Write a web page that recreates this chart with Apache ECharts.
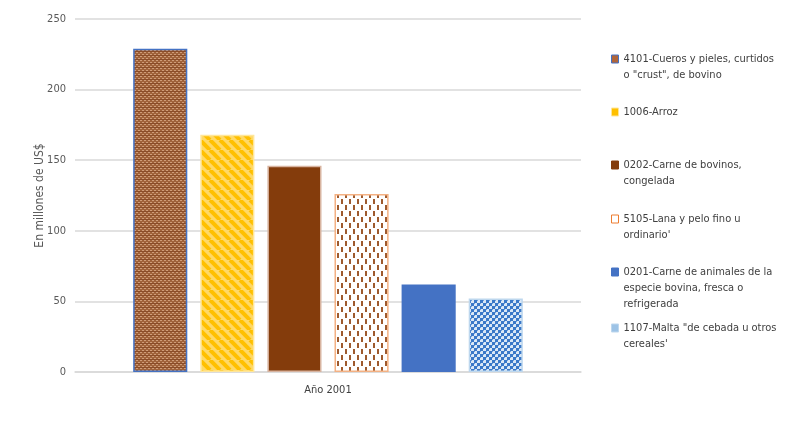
<!DOCTYPE html>
<html>
<head>
<meta charset="utf-8">
<script src="https://cdn.jsdelivr.net/npm/echarts@6/dist/echarts.min.js"></script>
<style>
  html, body { margin: 0; padding: 0; background: #fff; }
  #main { width: 805px; height: 421px; }
</style>
</head>
<body>
<div id="main"></div>
<script>
// data
var categories = ['Año 2001'];
var seriesNames = [
  '4101-Cueros y pieles, curtidos\no "crust", de bovino',
  '1006-Arroz',
  '0202-Carne de bovinos,\ncongelada',
  "5105-Lana y pelo fino u\nordinario'",
  '0201-Carne de animales de la\nespecie bovina, fresca o\nrefrigerada',
  "1107-Malta \"de cebada u otros\ncereales'"
];
var values = [229, 168, 146, 126, 62, 52];
var yTicks = [0, 50, 100, 150, 200, 250];

var FONT = "'Liberation Sans Narrow', 'DejaVu Sans Condensed', sans-serif";

// fill patterns
function tile(w, h, draw) {
  var c = document.createElement('canvas');
  c.width = w; c.height = h;
  draw(c.getContext('2d'), w, h);
  return { image: c, repeat: 'repeat' };
}

var wovenBrown = tile(4, 4, function (g, w, h) {
  g.fillStyle = '#a0623a'; g.fillRect(0, 0, w, h);
  g.fillStyle = '#cf9c78'; g.fillRect(0, 0, 2, 1); g.fillRect(2, 2, 2, 1);
  g.fillStyle = '#8a4c28'; g.fillRect(0, 3, 4, 1);
});
var yellowStripes = tile(10, 10, function (g, w, h) {
  g.fillStyle = '#ffd966'; g.fillRect(0, 0, w, h);
  g.strokeStyle = '#ffc000'; g.lineWidth = 4;
  [-w, 0, w].forEach(function (k) {
    g.beginPath(); g.moveTo(k, 0); g.lineTo(k + w, h); g.stroke();
  });
});
var dashes = tile(8, 12, function (g, w, h) {
  g.fillStyle = '#ffffff'; g.fillRect(0, 0, w, h);
  g.fillStyle = '#9e5a2e';
  g.fillRect(1, 1, 2, 5);
  g.fillRect(5, 7, 2, 5);
});
var blueDots = tile(6, 6, function (g, w, h) {
  g.fillStyle = '#dbe8f6'; g.fillRect(0, 0, w, h);
  g.fillStyle = '#3a78c8';
  g.fillRect(0, 0, 3, 3); g.fillRect(3, 3, 3, 3);
  g.fillStyle = '#6fa0dc';
  g.fillRect(3, 0, 1, 1); g.fillRect(0, 3, 1, 1);
});

var fills = [wovenBrown, yellowStripes, '#843c0c', dashes, '#4472c4', blueDots];
var borders = ['#4472c4', '#ffe699', '#d8b4a0', '#f4b183', '#4472c4', '#bdd7ee'];
var iconColors = ['#b0653a', '#ffc000', '#843c0c', '#ffffff', '#4472c4', '#9dc3e6'];
var iconBorders = ['#4472c4', '#ffe699', '#843c0c', '#ed7d31', '#4472c4', '#bdd7ee'];
var legendTops = [35, 104, 141, 195, 232, 304];

var LH = 16;
var series = seriesNames.map(function (name, i) {
  return {
    name: name,
    type: 'bar',
    barGap: '24%',
    barCategoryGap: '23%',
    data: [values[i]],
    itemStyle: { color: fills[i], borderColor: borders[i], borderWidth: 1.5 }
  };
});

// one legend per item so the icon sits on the first text line
var legends = seriesNames.map(function (name, i) {
  var n = name.split('\n').length;
  return {
    orient: 'vertical',
    left: 611,
    top: legendTops[i],
    padding: 0,
    itemWidth: 7,
    itemHeight: 8,
    selectedMode: false,
    data: [{
      name: name,
      icon: 'rect',
      itemStyle: { color: iconColors[i], borderColor: iconBorders[i], borderWidth: 1 }
    }],
    formatter: function (nm) {
      return new Array(n).join('\n') + nm;
    },
    textStyle: {
      fontFamily: FONT, fontSize: 11, color: '#404040', lineHeight: LH
    }
  };
});

var dom = document.getElementById('main');
var myChart = echarts.init(dom);
var option = {
  animation: false,
  textStyle: { fontFamily: FONT },
  grid: { left: 75, right: 224, top: 19, bottom: 49 },
  legend: legends,
  xAxis: {
    type: 'category',
    data: categories,
    axisLine: { lineStyle: { color: '#d9d9d9', width: 1.5 } },
    axisTick: { show: false },
    axisLabel: { color: '#404040', fontSize: 11, fontFamily: FONT, margin: 13 }
  },
  yAxis: {
    type: 'value',
    min: yTicks[0],
    max: yTicks[yTicks.length - 1],
    interval: 50,
    name: 'En millones de US$',
    nameLocation: 'middle',
    nameGap: 29,
    nameMoveOverlap: false,
    nameTextStyle: { color: '#595959', fontSize: 12, fontFamily: FONT },
    axisLine: { show: false },
    axisTick: { show: false },
    axisLabel: { color: '#595959', fontSize: 11, fontFamily: FONT, margin: 9 },
    splitLine: { lineStyle: { color: '#d9d9d9', width: 1.5 } }
  },
  series: series
};
myChart.setOption(option);
</script>
</body>
</html>
